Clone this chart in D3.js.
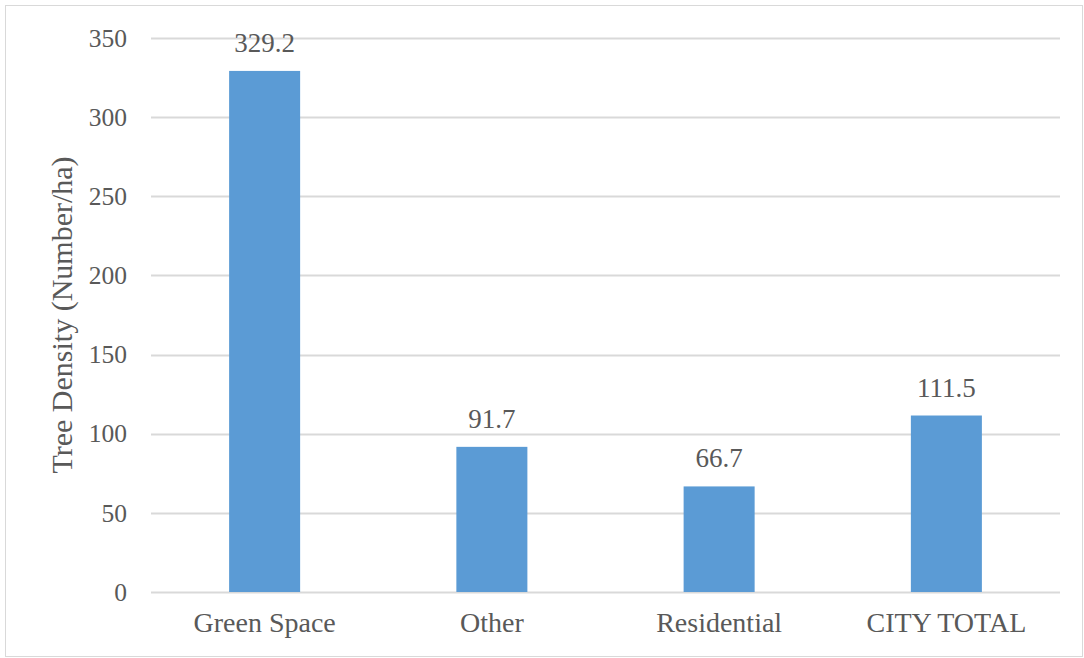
<!DOCTYPE html>
<html>
<head>
<meta charset="utf-8">
<script src="https://cdn.jsdelivr.net/npm/d3@7"></script>
<style>
  html, body { margin: 0; padding: 0; background: #fff; }
  svg text { font-family: "Liberation Serif", "Times New Roman", serif; fill: #595959; }
</style>
</head>
<body>
<svg id="chart" width="1084" height="658"></svg>
<script>
// Tree density by land use
const categories = ["Green Space", "Other", "Residential", "CITY TOTAL"];
const density = [329.2, 91.7, 66.7, 111.5];
const yTicks = [0, 50, 100, 150, 200, 250, 300, 350];
const yTitle = "Tree Density (Number/ha)";

const W = 1084, H = 658;
const margin = { top: 38, right: 24, bottom: 66, left: 151 };
const svg = d3.select("#chart");

// chart frame
svg.append("rect")
  .attr("x", 5.5).attr("y", 5.5)
  .attr("width", W - 7).attr("height", H - 7)
  .attr("fill", "#fff").attr("stroke", "#D9D9D9").attr("stroke-width", 1);

const x = d3.scaleBand()
  .domain(categories)
  .range([margin.left, W - margin.right])
  .paddingInner(0.6875)
  .paddingOuter(0.34375);

const y = d3.scaleLinear()
  .domain([0, 350])
  .range([H - margin.bottom, margin.top]);

// horizontal gridlines
svg.append("g")
  .selectAll("line")
  .data(yTicks)
  .join("line")
  .attr("x1", margin.left).attr("x2", W - margin.right)
  .attr("y1", d => Math.round(y(d)) + 0.5).attr("y2", d => Math.round(y(d)) + 0.5)
  .attr("stroke", "#D9D9D9").attr("stroke-width", 2);

// y axis labels
const yAxis = d3.axisLeft(y).tickValues(yTicks).tickSize(0).tickPadding(24);
const gy = svg.append("g")
  .attr("transform", `translate(${margin.left},0)`)
  .call(yAxis);
gy.select(".domain").remove();
gy.selectAll("text")
  .style("font-size", "25.5px")
  .style("font-family", "Liberation Serif")
  .attr("fill", "#595959");

// x axis labels
const xAxis = d3.axisBottom(x).tickSize(0).tickPadding(20);
const gx = svg.append("g")
  .attr("transform", `translate(0,${H - margin.bottom})`)
  .call(xAxis);
gx.select(".domain").remove();
gx.selectAll("text")
  .style("font-size", "28px")
  .style("font-family", "Liberation Serif")
  .attr("fill", "#595959");

// bars
svg.append("g")
  .selectAll("rect")
  .data(categories)
  .join("rect")
  .attr("x", d => x(d))
  .attr("width", x.bandwidth())
  .attr("y", (d, i) => y(density[i]))
  .attr("height", (d, i) => y(0) - y(density[i]))
  .attr("fill", "#5B9BD5");

// value labels
svg.append("g")
  .selectAll("text")
  .data(categories)
  .join("text")
  .attr("x", d => x(d) + x.bandwidth() / 2)
  .attr("y", (d, i) => y(density[i]) - 19)
  .attr("text-anchor", "middle")
  .style("font-size", "27px")
  .text((d, i) => density[i].toFixed(1));

// y axis title
svg.append("text")
  .attr("transform", "translate(72,315) rotate(-90)")
  .attr("text-anchor", "middle")
  .style("font-size", "30px")
  .text(yTitle);
</script>
</body>
</html>
